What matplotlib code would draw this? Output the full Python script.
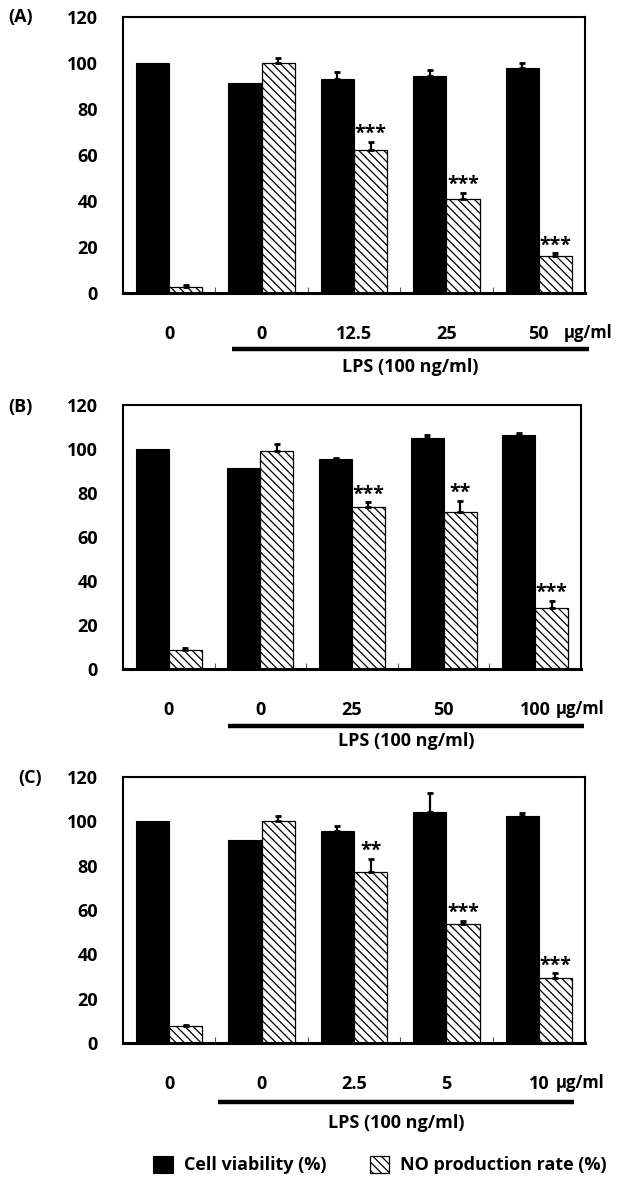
import numpy as np
import matplotlib
matplotlib.use('Agg')
import matplotlib.pyplot as plt

plt.rcParams['font.family'] = ['Open Sans', 'Liberation Sans', 'DejaVu Sans']
plt.rcParams['font.weight'] = 'bold'
plt.rcParams['hatch.linewidth'] = 0.9

# panel data
a_labels = ['0', '0', '12.5', '25', '50']
a_cell = [100, 91.5, 93, 94.5, 98]
a_cell_err = [0, 0, 3, 2.3, 2]
a_no = [2.5, 100, 62, 41, 16.3]
a_no_err = [0.8, 2.3, 3.8, 2.5, 1]
a_stars = ['', '', '***', '***', '***']

b_labels = ['0', '0', '25', '50', '100']
b_cell = [100, 91.5, 95.3, 104.8, 106.5]
b_cell_err = [0, 0, 0.6, 1.4, 0.9]
b_no = [8.6, 99.2, 73.6, 71.2, 27.6]
b_no_err = [0.9, 3.2, 2.3, 5.2, 3.5]
b_stars = ['', '', '***', '**', '***']

c_labels = ['0', '0', '2.5', '5', '10']
c_cell = [100, 91.7, 95.5, 104.2, 102.6]
c_cell_err = [0, 0, 2.5, 8.6, 1.3]
c_no = [7.5, 100, 77.1, 53.5, 29.3]
c_no_err = [0.5, 2.3, 6, 1.7, 2.1]
c_stars = ['', '', '**', '***', '***']

W, H = 621, 1187
fig = plt.figure(figsize=(W / 100, H / 100), dpi=100)

# (tag, axes rect in px: left, top, right, bottom), lps line x range, unit offset, line/text y
panels = [
    ('(A)', (123, 17, 585, 293), (0.68, 4.54), 18, -0.203, -0.268, (8, 17),
     a_labels, a_cell, a_cell_err, a_no, a_no_err, a_stars),
    ('(B)', (123, 405, 581, 669), (0.65, 4.53), 15, -0.216, -0.272, (8, 407),
     b_labels, b_cell, b_cell_err, b_no, b_no_err, b_stars),
    ('(C)', (123, 777, 585, 1043), (0.53, 4.38), 12, -0.222, -0.300, (18, 778),
     c_labels, c_cell, c_cell_err, c_no, c_no_err, c_stars),
]


def up_err(ax, xs, ys, errs):
    xs = np.asarray(xs)
    ys = np.asarray(ys, dtype=float)
    e = np.asarray(errs, dtype=float)
    m = e > 0
    ax.errorbar(xs[m], ys[m], yerr=[np.zeros(m.sum()), e[m]], fmt='none',
                ecolor='black', elinewidth=1.6, capsize=2.5, capthick=2)


w = 0.36
fs = 13
for (tag, (l, t, r, b), (lx0, lx1), uoff, line_y, text_y, (tx, ty),
     labels, cell, cell_err, no, no_err, stars) in panels:
    ax = fig.add_axes([l / W, 1 - b / H, (r - l) / W, (b - t) / H])
    x = np.arange(len(labels))
    ax.bar(x - w / 2, cell, w, color='black', edgecolor='black', linewidth=0.8,
           label='Cell viability (%)')
    ax.bar(x + w / 2, no, w, color='white', edgecolor='black', linewidth=0.9,
           hatch='\\\\\\\\', label='NO production rate (%)')
    up_err(ax, x - w / 2, cell, cell_err)
    up_err(ax, x + w / 2, no, no_err)
    for i, s in enumerate(stars):
        if s:
            ax.annotate(s, xy=(x[i] + w / 2, no[i] + no_err[i]), xytext=(0, 5.5),
                        textcoords='offset points', ha='center', va='center',
                        fontsize=fs + 1, fontweight='bold')

    ax.set_xlim(-0.5, len(labels) - 0.5)
    ax.set_ylim(0, 120)
    ax.set_yticks(np.arange(0, 121, 20))
    ax.set_xticks(x)
    ax.set_xticklabels(labels)
    ax.set_xticks(np.arange(0.5, len(labels) - 1), minor=True)
    ax.tick_params(axis='y', length=0, pad=18, labelsize=fs)
    ax.tick_params(axis='x', which='major', length=0, pad=23, labelsize=fs)
    ax.tick_params(axis='x', which='minor', direction='in', length=4, width=0.8,
                   color='#555555')
    for sp in ax.spines.values():
        sp.set_linewidth(1.5)
    ax.spines['bottom'].set_linewidth(2.2)

    ax.annotate('μg/ml', xy=(x[-1], 0), xytext=(uoff, -29), textcoords='offset points',
                ha='left', va='center', fontsize=12, fontweight='bold',
                annotation_clip=False)
    trans = ax.get_xaxis_transform()
    ax.plot([lx0, lx1], [line_y, line_y], color='black', lw=3.2, transform=trans,
            clip_on=False, solid_capstyle='butt')
    ax.text((lx0 + lx1) / 2, text_y, 'LPS (100 ng/ml)', transform=trans,
            ha='center', va='center', fontsize=fs, fontweight='bold')
    fig.text(tx / W, 1 - ty / H, tag, ha='left', va='center', fontsize=fs,
             fontweight='bold')

handles, hl = ax.get_legend_handles_labels()
fig.legend(handles, hl, loc='center', bbox_to_anchor=(380 / W, 1 - 1165 / H),
           ncol=2, frameon=False, fontsize=fs, handlelength=1.1, handleheight=1.1,
           handletextpad=0.6, columnspacing=2.4)

fig.savefig('out.png', dpi=100)
